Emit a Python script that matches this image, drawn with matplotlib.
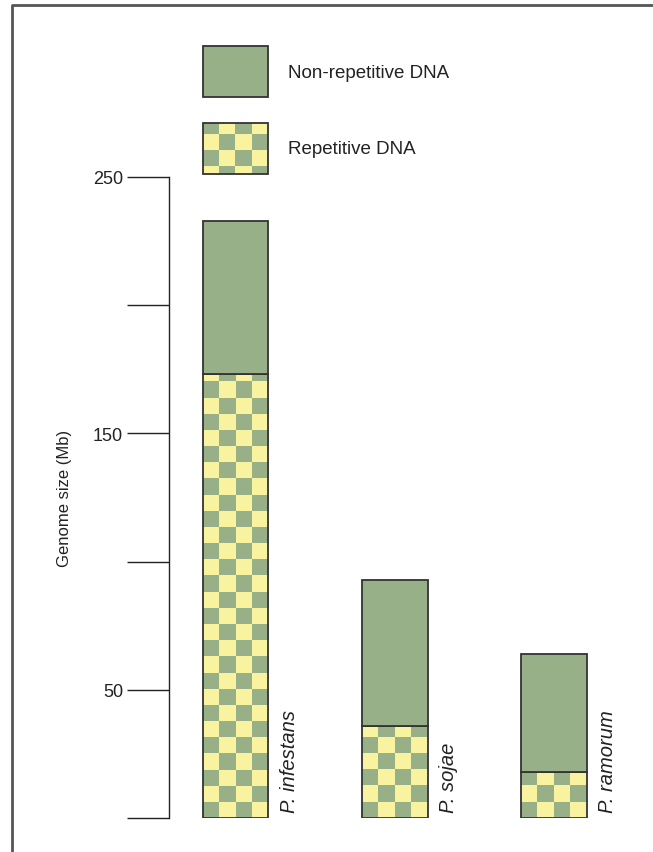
import numpy as np
import matplotlib.pyplot as plt
from matplotlib.patches import Rectangle
from matplotlib.lines import Line2D

plt.rcParams['font.family'] = ['Liberation Sans', 'DejaVu Sans']

species = ['P. infestans', 'P. sojae', 'P. ramorum']
total_mb = [233, 93, 64]
repetitive_mb = [173, 36, 18]
nonrep_mb = [t - r for t, r in zip(total_mb, repetitive_mb)]
yticks = [0, 50, 100, 150, 200, 250]
ytick_labels = ['', '50', '', '150', '', '250']

green = '#98b088'
yellow = '#f9f39f'
edge = '#333333'
cmap = plt.matplotlib.colors.ListedColormap([green, yellow])

W, H = 653, 853
fig = plt.figure(figsize=(W / 100, H / 100), dpi=100)

# axes box in pixels: x 169..640, y(0)=819, y(250)=178
ax = fig.add_axes([169 / W, (H - 819) / H, (640 - 169) / W, (819 - 178) / H])

x = np.arange(len(species))
bw = 0.41
cell_h = 6.3  # Mb per checker cell (~16 px)


def checker(ax, left, bottom, width, height, clip):
    ncol = 4
    nrow = int(np.ceil(height / cell_h)) + 1
    grid = (np.add.outer(np.arange(nrow), np.arange(ncol)) % 2)
    im = ax.imshow(grid, cmap=cmap, interpolation='nearest', aspect='auto',
                   extent=(left, left + width, bottom, bottom + nrow * cell_h),
                   origin='lower', zorder=1)
    im.set_clip_path(clip)


for i in range(len(species)):
    left = x[i] - bw / 2
    rep = Rectangle((left, 0), bw, repetitive_mb[i], facecolor='none',
                    edgecolor=edge, lw=1.3, zorder=3)
    ax.add_patch(rep)
    checker(ax, left, 0, bw, repetitive_mb[i], rep)
    ax.bar(x[i], nonrep_mb[i], bw, bottom=repetitive_mb[i], color=green,
           edgecolor=edge, lw=1.3, zorder=3)
    ax.text(x[i] + bw / 2 + 0.07, 2.5, species[i], rotation=90, style='italic',
            fontsize=14.5, ha='left', va='bottom', color='#222222')

ax.set_xlim(-0.42, 2.54)
ax.set_ylim(0, 250)
for s in ['top', 'right', 'bottom']:
    ax.spines[s].set_visible(False)
ax.spines['left'].set_color('#222222')
ax.spines['left'].set_linewidth(1)
ax.set_xticks([])
ax.set_yticks(yticks)
ax.set_yticklabels(ytick_labels, fontsize=13, color='#222222')
ax.tick_params(axis='y', length=30, width=1, color='#222222', pad=3)
ax.set_ylabel('Genome size (Mb)', fontsize=12, color='#222222', labelpad=15)

# legend drawn in figure pixels
lax = fig.add_axes([0, 0, 1, 1], facecolor='none')
lax.set_xlim(0, W)
lax.set_ylim(H, 0)
lax.axis('off')
lax.add_patch(Rectangle((203, 47), 65, 51, facecolor=green, edgecolor=edge, lw=1.3))
lbox = Rectangle((203, 124), 65, 51, facecolor='none', edgecolor=edge, lw=1.3, zorder=3)
lax.add_patch(lbox)
g = np.add.outer(np.arange(4), np.arange(4)) % 2
im = lax.imshow(g, cmap=cmap, interpolation='nearest', aspect='auto',
                extent=(203, 268, 183, 119), zorder=1)
im.set_clip_path(lbox)
lax.text(288, 73, 'Non-repetitive DNA', fontsize=13.5, va='center', color='#222222')
lax.text(288, 149, 'Repetitive DNA', fontsize=13.5, va='center', color='#222222')

# outer frame (left and top edges)
lax.add_line(Line2D([12, 12, W], [H, 6, 6], color='#555555', lw=2))

fig.savefig('out.png', dpi=100)
